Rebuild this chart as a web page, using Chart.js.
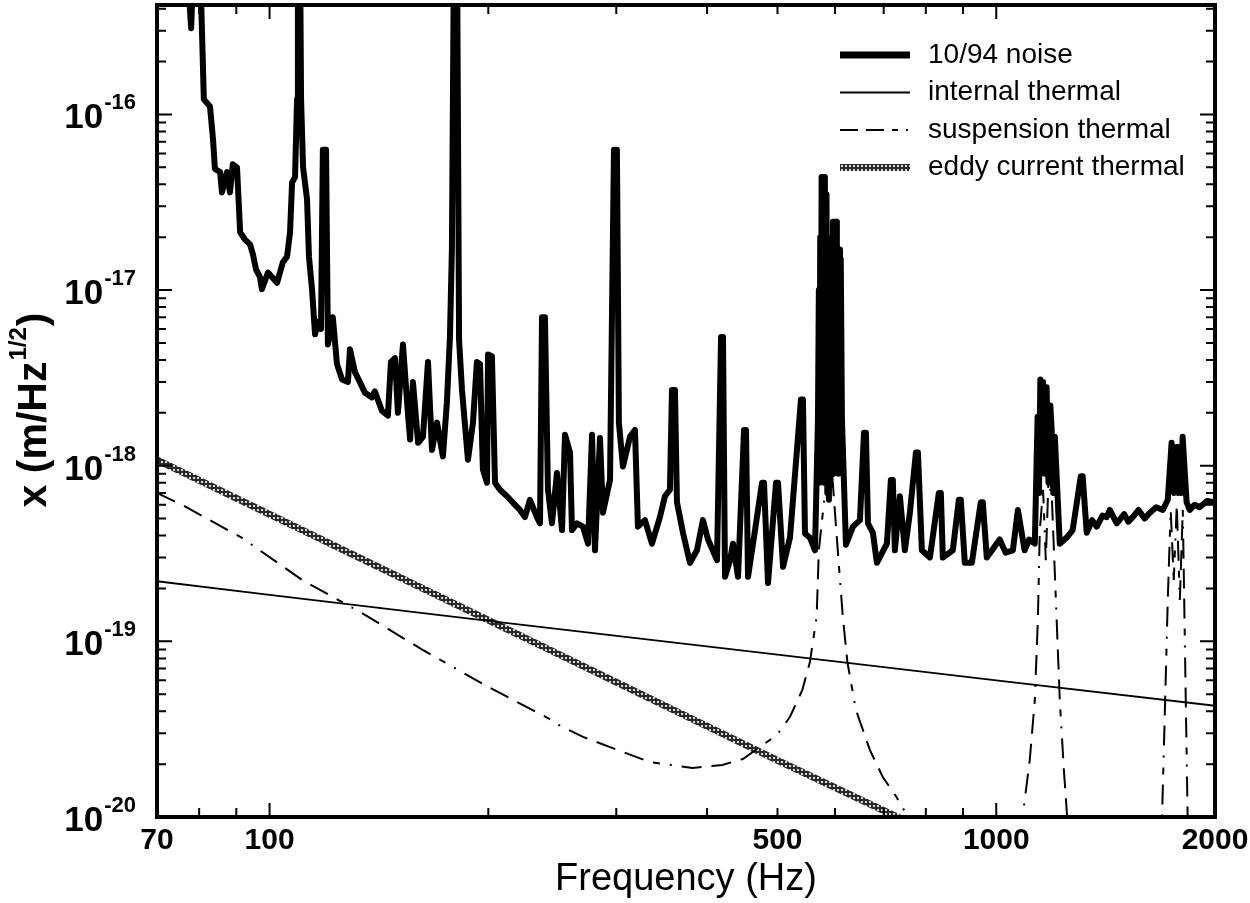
<!DOCTYPE html>
<html>
<head>
<meta charset="utf-8">
<script src="https://cdn.jsdelivr.net/npm/chart.js@4.4.1/dist/chart.umd.min.js"></script>
<style>
  html, body { margin: 0; padding: 0; background: #fff; }
  #wrap { width: 1250px; height: 903px; }
</style>
</head>
<body>
<div id="wrap"><canvas id="chart" width="1250" height="903"></canvas></div>
<script>
// 10/94 noise spectrum (Hz, m/Hz^1/2)
const noiseFreq = [70, 76.7, 78.0, 78.7, 80.2, 81.2, 82.8, 83.6, 84.1, 85.5, 86.0, 87.4, 88.2, 89.0, 90.2, 91.1, 92.5, 94.0, 94.9, 95.8,
  97.0, 97.6, 99.5, 102.4, 104.3, 105.7, 106.7, 107.4, 108.4, 109.1, 109.4, 110.1, 110.5, 111.2, 112.6, 113.3, 114.4, 115.5, 116.6, 117.7,
  118.4, 119.6, 120.3, 122.2, 123.8, 125.8, 128.2, 129.0, 131.1, 133.1, 135.3, 138.3, 139.6, 142.8, 145.5, 146.9, 148.8, 150.2, 152.6, 155.0,
  156.1, 157.5, 160.1, 162.6, 165.2, 167.3, 170.0, 173.2, 175.4, 177.1, 178.2, 179.4, 181.1, 182.3, 184.0, 187.5, 190.5, 192.9, 194.8, 196.6,
  199.2, 199.8, 202.3, 204.3, 207.5, 212.2, 216.3, 221.1, 224.6, 228.2, 233.3, 235.6, 237.1, 239.3, 241.6, 244.7, 248.6, 252.6, 255.0, 259.1,
  260.7, 264.9, 270.0, 274.3, 277.8, 280.4, 284.9, 287.6, 294.1, 297.8, 300.6, 302.5, 306.4, 313.3, 318.3, 321.3, 328.5, 335.9, 344.5, 350.0,
  355.6, 357.9, 361.3, 363.6, 370.6, 378.9, 387.4, 394.8, 401.2, 412.8, 418.1, 420.7, 423.4, 430.2, 434.3, 441.2, 449.7, 452.5, 455.4, 462.7,
  476.1, 479.1, 485.2, 497.7, 500.8, 508.9, 520.2, 538.6, 542.0, 545.5, 554.2, 563.1,
  568.4, 570.0, 571.0, 572.5, 573.5, 575.0, 576.5, 578.0, 579.5, 581.0, 582.5, 584.0, 585.5, 587.0, 588.5, 590.0, 591.5, 593.0, 594.5, 596.0,
  597.5, 599.0, 600.5, 602.0, 603.5, 605.0, 606.5, 608.0, 609.5, 611.0, 613.3,
  621.1, 635.0, 649.3, 657.6, 661.7, 666.0, 676.5, 685.1, 707.2, 716.1, 720.6, 725.3, 736.9, 748.6, 760.6, 775.3, 780.2, 790.1, 810.4, 833.7,
  839.0, 844.3, 871.4, 888.2, 893.8, 905.2, 925.6, 952.2, 958.3, 970.5, 1011, 1030, 1054, 1071, 1094, 1110, 1130, 1140, 1145, 1150,
  1155, 1160, 1166, 1173, 1180, 1187, 1192, 1198, 1204, 1223, 1250, 1274, 1307, 1315, 1332, 1355, 1375, 1400, 1419, 1433,
  1465, 1500, 1520, 1541, 1570, 1600, 1627, 1660, 1695, 1722, 1743, 1757, 1771, 1780, 1788, 1797, 1805, 1828, 1846, 1875,
  1905, 1950, 2000];
const noiseAmp = [1.5e-15, 9e-16, 3.1e-16, 9e-16, 8e-16, 1.22e-16, 1.11e-16, 7.2e-17, 4.9e-17, 4.7e-17, 3.6e-17, 4.7e-17, 3.6e-17, 5.2e-17, 5.0e-17, 2.13e-17, 1.94e-17, 1.82e-17, 1.59e-17, 1.31e-17,
  1.19e-17, 1.01e-17, 1.26e-17, 1.10e-17, 1.44e-17, 1.55e-17, 2.13e-17, 4.1e-17, 4.4e-17, 1.22e-16, 1e-15, 1e-15, 1.22e-16, 5.0e-17, 3.3e-17, 1.55e-17, 1.01e-17, 5.6e-18, 6.6e-18, 6.0e-18,
  6.3e-17, 6.3e-17, 4.9e-18, 7.0e-18, 3.8e-18, 3.1e-18, 3.0e-18, 4.6e-18, 3.4e-18, 3.0e-18, 2.6e-18, 2.45e-18, 2.65e-18, 2.05e-18, 1.93e-18, 3.9e-18, 4.1e-18, 2.0e-18, 4.9e-18, 2.0e-18,
  1.41e-18, 3.0e-18, 1.35e-18, 1.46e-18, 3.9e-18, 1.23e-18, 1.76e-18, 1.13e-18, 2.3e-18, 5.4e-18, 1.7e-17, 1e-15, 1e-15, 5.2e-18, 2.7e-18, 1.08e-18, 1.76e-18, 3.9e-18, 3.8e-18, 9.5e-19,
  8.0e-19, 4.3e-18, 4.2e-18, 8.0e-19, 7.3e-19, 6.7e-19, 6.15e-19, 5.6e-19, 5.1e-19, 6.4e-19, 5.1e-19, 4.7e-19, 7.0e-18, 7.0e-18, 7.3e-19, 4.7e-19, 9.1e-19, 4.3e-19, 1.5e-18, 1.19e-18,
  4.3e-19, 4.7e-19, 4.5e-19, 3.6e-19, 1.5e-18, 3.3e-19, 1.44e-18, 5.4e-19, 8.3e-19, 6.3e-17, 6.3e-17, 1.76e-18, 9.9e-19, 1.46e-18, 1.6e-18, 4.5e-19, 4.9e-19, 3.6e-19, 5.1e-19, 6.7e-19,
  7.3e-19, 2.7e-18, 2.7e-18, 6.2e-19, 4.15e-19, 2.8e-19, 3.3e-19, 4.9e-19, 3.8e-19, 2.9e-19, 5.4e-18, 5.4e-18, 2.33e-19, 2.9e-19, 3.6e-19, 2.33e-19, 1.6e-18, 1.6e-18, 2.33e-19, 3.6e-19,
  8.0e-19, 8.0e-19, 2.15e-19, 8.0e-19, 8.0e-19, 2.66e-19, 3.9e-19, 2.38e-18, 2.38e-18, 4.1e-19, 3.9e-19, 3.3e-19,
  1.83e-18, 1.0e-17, 8e-19, 2.0e-17, 9e-19, 4.4e-17, 1.0e-18, 4.4e-17, 8e-19, 4.4e-17, 1.2e-18, 3.5e-17, 7e-19, 1.5e-17, 6.4e-19, 1.5e-17, 8e-19, 2.0e-17, 1.0e-18, 2.45e-17,
  9e-19, 2.45e-17, 1.0e-18, 2.45e-17, 1.1e-18, 1.7e-17, 9e-19, 1.7e-17, 1.2e-18, 1.5e-17, 1.83e-18,
  3.55e-19, 4.5e-19, 4.9e-19, 1.54e-18, 1.54e-18, 4.7e-19, 4.15e-19, 2.8e-19, 3.6e-19, 8.3e-19, 8.3e-19, 3.3e-19, 6.7e-19, 3.3e-19, 5.4e-19, 1.19e-18, 1.19e-18, 3.3e-19, 3.0e-19, 7.0e-19,
  7.0e-19, 3.0e-19, 3.3e-19, 6.4e-19, 6.4e-19, 2.8e-19, 2.8e-19, 6.2e-19, 6.2e-19, 3.0e-19, 3.8e-19, 3.2e-19, 3.3e-19, 5.6e-19, 3.3e-19, 3.8e-19, 3.6e-19, 1.9e-18, 7.0e-19, 3.1e-18,
  1.2e-18, 3.0e-18, 9.0e-19, 2.8e-18, 8.0e-19, 2.2e-18, 1.6e-18, 7.0e-19, 1.46e-18, 3.6e-19, 3.9e-19, 4.3e-19, 8.7e-19, 8.7e-19, 4.15e-19, 4.9e-19, 4.5e-19, 5.2e-19, 5.1e-19, 5.6e-19,
  4.7e-19, 5.3e-19, 4.8e-19, 5.1e-19, 5.6e-19, 5.0e-19, 5.4e-19, 5.8e-19, 5.6e-19, 6.4e-19, 1.35e-18, 7.0e-19, 1.28e-18, 7.0e-19, 1.28e-18, 7.0e-19, 1.46e-18, 6.2e-19, 5.6e-19, 6.0e-19,
  5.8e-19, 6.3e-19, 6.2e-19];

// internal thermal
const internalFreq = [70, 100, 200, 500, 1000, 2000];
const internalAmp = [2.2e-19, 1.84e-19, 1.31e-19, 8.4e-20, 6.0e-20, 4.3e-20];

// suspension thermal (with violin resonances)
const suspFreq = [70, 75.7, 91.5, 110.8, 134, 162, 200, 241.6, 250, 270, 301, 333, 382, 420, 448, 499, 520, 541, 554, 566,
  570, 580, 596, 607, 615, 624, 641, 670, 698, 729, 756, 900, 1087, 1112, 1130, 1141, 1148, 1160, 1170, 1180,
  1193, 1208, 1223, 1239, 1252, 1450, 1691, 1705, 1722, 1738, 1755, 1772, 1789, 1806, 1823, 1834, 2000];
const suspAmp = [7.0e-19, 6.0e-19, 3.9e-19, 2.24e-19, 1.45e-19, 9.0e-20, 5.5e-20, 3.66e-20, 3.34e-20, 2.86e-20, 2.41e-20, 2.06e-20, 1.9e-20, 1.98e-20, 2.14e-20, 2.93e-20, 3.71e-20, 5.3e-20, 7.6e-20, 1.38e-19,
  3.3e-19, 6.5e-19, 7.8e-19, 2.8e-19, 1.38e-19, 7.6e-20, 4.08e-20, 2.41e-20, 1.69e-20, 1.3e-20, 1.0e-20, 3e-21, 1.0e-20, 2.11e-20, 4.64e-20, 1.33e-19, 4.3e-19, 7.3e-19, 2.9e-19, 8.3e-19,
  6.4e-19, 1.72e-19, 4.64e-20, 1.85e-20, 1.0e-20, 3e-21, 1.0e-20, 3.57e-20, 1.72e-19, 5.6e-19, 2.24e-19, 6.0e-19, 1.72e-19, 5.6e-19, 4.64e-20, 1.0e-20, 3e-21];

// eddy current thermal
const eddyFreq = [70, 200, 500, 2000];
const eddyAmp = [1.08e-18, 1.32e-19, 2.1e-20, 1.4e-21];

const seriesLabels = ['10/94 noise', 'internal thermal', 'suspension thermal', 'eddy current thermal'];
const xTickLabels = [70, 100, 500, 1000, 2000];
const xTickMarks = [70, 80, 90, 100, 200, 300, 400, 500, 600, 700, 800, 900, 1000, 2000];
const yDecades = [-20, -19, -18, -17, -16];

const FONT = "'Liberation Sans', Arial, Helvetica, sans-serif";

function pts(fs, vs) {
  return fs.map((f, i) => ({ x: f, y: vs[i] }));
}

const canvas = document.getElementById('chart');
const ctx0 = canvas.getContext('2d');

// rope-like texture for the eddy current line
function ropePattern() {
  const c = document.createElement('canvas');
  c.width = 4; c.height = 4;
  const g = c.getContext('2d');
  g.fillStyle = '#2a2a2a';
  g.fillRect(0, 0, 4, 4);
  g.fillStyle = '#d8d8d8';
  g.fillRect(1, 1, 2, 2);
  return ctx0.createPattern(c, 'repeat');
}

const frame = {
  id: 'frame',
  afterDraw(chart) {
    const ctx = chart.ctx;
    const a = chart.chartArea;
    const xs = chart.scales.x, ys = chart.scales.y;
    ctx.save();
    ctx.strokeStyle = '#000';

    // inward ticks on all four sides
    ctx.lineWidth = 2;
    xTickMarks.forEach(v => {
      const px = xs.getPixelForValue(v);
      const len = (v === 100 || v === 1000) ? 14 : 9;
      ctx.beginPath();
      ctx.moveTo(px, a.bottom); ctx.lineTo(px, a.bottom - len);
      ctx.moveTo(px, a.top); ctx.lineTo(px, a.top + len);
      ctx.stroke();
    });
    for (let e = -20; e <= -16; e++) {
      for (let m = 1; m <= 9; m++) {
        const v = m * Math.pow(10, e);
        if (v > ys.max) break;
        const py = ys.getPixelForValue(v);
        const len = m === 1 ? 15 : 9;
        ctx.beginPath();
        ctx.moveTo(a.left, py); ctx.lineTo(a.left + len, py);
        ctx.moveTo(a.right, py); ctx.lineTo(a.right - len, py);
        ctx.stroke();
      }
    }

    // frame
    ctx.lineWidth = 4;
    ctx.strokeRect(a.left, a.top, a.right - a.left, a.bottom - a.top);

    // y tick labels 10^n
    ctx.fillStyle = '#000';
    ctx.textAlign = 'left';
    ctx.textBaseline = 'alphabetic';
    yDecades.forEach(e => {
      const py = ys.getPixelForValue(Math.pow(10, e));
      ctx.font = 'bold 22px ' + FONT;
      const exp = '-' + Math.abs(e);
      const ew = ctx.measureText(exp).width;
      ctx.font = 'bold 35px ' + FONT;
      const bw = ctx.measureText('10').width;
      const right = 136;
      ctx.fillText('10', right - ew - bw - 1, py + 14);
      ctx.font = 'bold 22px ' + FONT;
      ctx.fillText(exp, right - ew, py - 5);
    });

    // y axis title  x (m/Hz^1/2)
    ctx.save();
    ctx.translate(46, 410);
    ctx.rotate(-Math.PI / 2);
    ctx.font = 'bold 41px ' + FONT;
    const t1 = 'x (m/Hz', t3 = ')';
    const w1 = ctx.measureText(t1).width, w3 = ctx.measureText(t3).width;
    ctx.font = 'bold 24px ' + FONT;
    const t2 = '1/2';
    const w2 = ctx.measureText(t2).width;
    let x0 = -(w1 + w2 + w3 + 2) / 2;
    ctx.font = 'bold 41px ' + FONT;
    ctx.fillText(t1, x0, 0);
    ctx.font = 'bold 24px ' + FONT;
    ctx.fillText(t2, x0 + w1 + 1, -20);
    ctx.font = 'bold 41px ' + FONT;
    ctx.fillText(t3, x0 + w1 + w2 + 2, 0);
    ctx.restore();

    // legend
    chart.data.datasets.forEach((ds, i) => {
      const y = 55 + i * 37.5;
      ctx.save();
      ctx.strokeStyle = ds.borderColor;
      ctx.lineWidth = i === 0 ? 7 : ds.borderWidth;
      ctx.setLineDash(i === 2 ? [18, 8, 18, 8, 6, 8, 2, 8] : (ds.borderDash || []));
      ctx.beginPath();
      ctx.moveTo(840, y); ctx.lineTo(910, y);
      ctx.stroke();
      ctx.restore();
      ctx.font = '28px ' + FONT;
      ctx.textBaseline = 'middle';
      ctx.fillStyle = '#000';
      ctx.fillText(ds.label, 928, y);
    });
    ctx.restore();
  }
};

new Chart(canvas, {
  type: 'line',
  data: {
    datasets: [
      {
        label: seriesLabels[0],
        data: pts(noiseFreq, noiseAmp),
        borderColor: '#000',
        borderWidth: 6,
        borderJoinStyle: 'round',
        pointRadius: 0
      },
      {
        label: seriesLabels[1],
        data: pts(internalFreq, internalAmp),
        borderColor: '#000',
        borderWidth: 1.8,
        pointRadius: 0
      },
      {
        label: seriesLabels[2],
        data: pts(suspFreq, suspAmp),
        borderColor: '#000',
        borderWidth: 2,
        borderDash: [20, 10, 20, 10, 20, 10, 7, 10, 2, 10],
        pointRadius: 0
      },
      {
        label: seriesLabels[3],
        data: pts(eddyFreq, eddyAmp),
        borderColor: ropePattern(),
        borderWidth: 7,
        pointRadius: 0
      }
    ]
  },
  options: {
    responsive: false,
    animation: false,
    devicePixelRatio: 1,
    layout: { padding: { top: 5, right: 35, left: 0, bottom: 0 } },
    plugins: {
      legend: { display: false },
      tooltip: { enabled: false }
    },
    elements: { line: { tension: 0 } },
    scales: {
      x: {
        type: 'logarithmic',
        min: 70,
        max: 2000,
        grid: { display: false, drawTicks: false },
        border: { display: false },
        afterBuildTicks: s => { s.ticks = xTickLabels.map(v => ({ value: v })); },
        afterFit: s => { s.height = 86; s.paddingLeft = 0; s.paddingRight = 0; },
        ticks: {
          autoSkip: false,
          maxRotation: 0,
          padding: 6,
          color: '#000',
          font: { family: "'Liberation Sans Narrow', " + FONT, size: 30, weight: 'bold' },
          callback: v => String(v)
        },
        title: {
          display: true,
          text: 'Frequency (Hz)',
          color: '#000',
          font: { family: FONT, size: 38 },
          padding: { top: 0, bottom: 1 }
        }
      },
      y: {
        type: 'logarithmic',
        min: 1e-20,
        max: 4.2e-16,
        grid: { display: false, drawTicks: false },
        border: { display: false },
        ticks: { display: false },
        afterFit: s => { s.width = 157; }
      }
    }
  },
  plugins: [frame]
});
</script>
</body>
</html>
